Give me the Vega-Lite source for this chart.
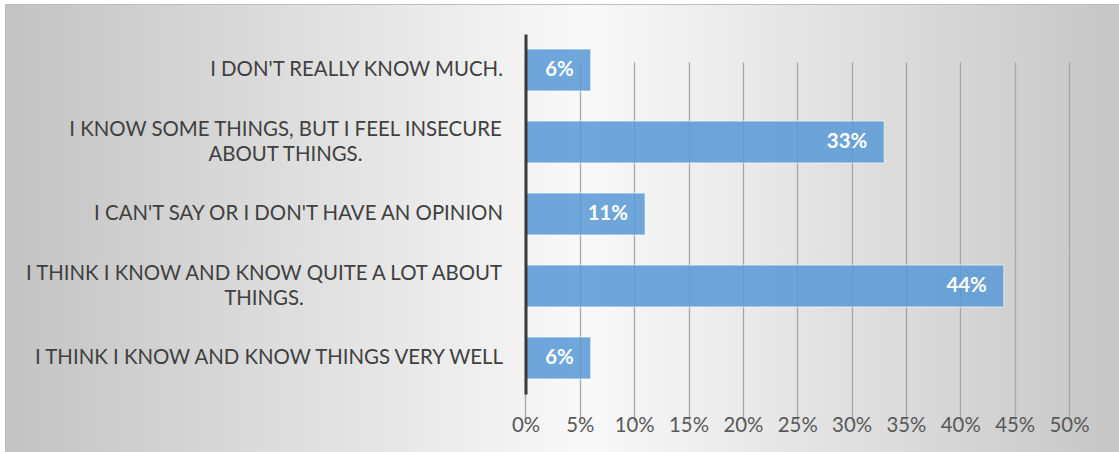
{
  "$schema": "https://vega.github.io/schema/vega-lite/v6.json",
  "width": 1114,
  "height": 448,
  "autosize": {"type": "none"},
  "padding": {"left": 5, "top": 4, "right": 0, "bottom": 0},
  "background": "#ffffff",
  "view": {
    "fill": {"gradient": "linear", "x1": 0, "y1": 0, "x2": 1, "y2": 0,
      "stops": [
        {"offset": 0, "color": "#c3c3c3"},
        {"offset": 0.52, "color": "#f9f9f9"},
        {"offset": 1, "color": "#c6c6c6"}
      ]},
    "stroke": "#bdbdbd",
    "strokeWidth": 1
  },
  "config": {"font": "Lato"},
  "data": {
    "values": [
      {"answer": "I DON'T REALLY KNOW MUCH.", "share": 0.06},
      {"answer": "I KNOW SOME THINGS, BUT I FEEL INSECURE ABOUT THINGS.", "share": 0.33},
      {"answer": "I CAN'T SAY OR I DON'T HAVE AN OPINION", "share": 0.11},
      {"answer": "I THINK I KNOW AND KNOW QUITE A LOT ABOUT THINGS.", "share": 0.44},
      {"answer": "I THINK I KNOW AND KNOW THINGS VERY WELL", "share": 0.06}
    ]
  },
  "encoding": {
    "y": {
      "field": "answer",
      "type": "nominal",
      "sort": null,
      "scale": {"range": [30, 390], "paddingInner": 0.42, "paddingOuter": 0.21},
      "axis": {
        "title": null,
        "orient": "left",
        "offset": -520.5,
        "ticks": false,
        "domain": true,
        "domainColor": "#3a3a3a",
        "domainWidth": 3,
        "grid": false,
        "labelFontSize": 20.4,
        "labelColor": "#404040",
        "labelLimit": 0,
        "labelLineHeight": 25,
        "labelAlign": {"condition": {"test": "length(datum.label) > 45", "value": "center"}, "value": "right"},
        "labelOffset": {"condition": {"test": "length(datum.label) > 45", "value": -12.5}, "value": 0},
        "labelPadding": {"condition": [
          {"test": "indexof(datum.label, 'INSECURE') >= 0", "value": 240.5},
          {"test": "indexof(datum.label, 'QUITE') >= 0", "value": 262}
        ], "value": 23},
        "labelExpr": "indexof(datum.label, 'INSECURE') >= 0 ? ['I KNOW SOME THINGS, BUT I FEEL INSECURE', 'ABOUT THINGS.'] : indexof(datum.label, 'QUITE') >= 0 ? ['I THINK I KNOW AND KNOW QUITE A LOT ABOUT', 'THINGS.'] : datum.label",
        "zindex": 2
      }
    },
    "x": {
      "field": "share",
      "type": "quantitative",
      "scale": {"domain": [-0.4788, 0.546], "nice": false, "zero": false},
      "axis": {
        "title": null,
        "orient": "bottom",
        "offset": -38,
        "values": [0, 0.05, 0.1, 0.15, 0.2, 0.25, 0.3, 0.35, 0.4, 0.45, 0.5],
        "format": ".0%",
        "grid": true,
        "gridColor": "#a6a6a6",
        "gridWidth": 1.3,
        "ticks": false,
        "domain": false,
        "labelFontSize": 20.4,
        "labelColor": "#595959",
        "labelPadding": 1,
        "labelFlush": false,
        "zindex": 0
      }
    }
  },
  "layer": [
    {
      "mark": {"type": "bar", "fill": "#5B9BD5", "fillOpacity": 0.88, "stroke": "#ffffff", "strokeOpacity": 0.6, "strokeWidth": 1},
      "encoding": {"x2": {"datum": 0}}
    },
    {
      "mark": {"type": "text", "align": "right", "dx": -17, "color": "#ffffff", "fontWeight": "bold", "fontSize": 20.4},
      "encoding": {"text": {"field": "share", "type": "quantitative", "format": ".0%"}}
    }
  ]
}
